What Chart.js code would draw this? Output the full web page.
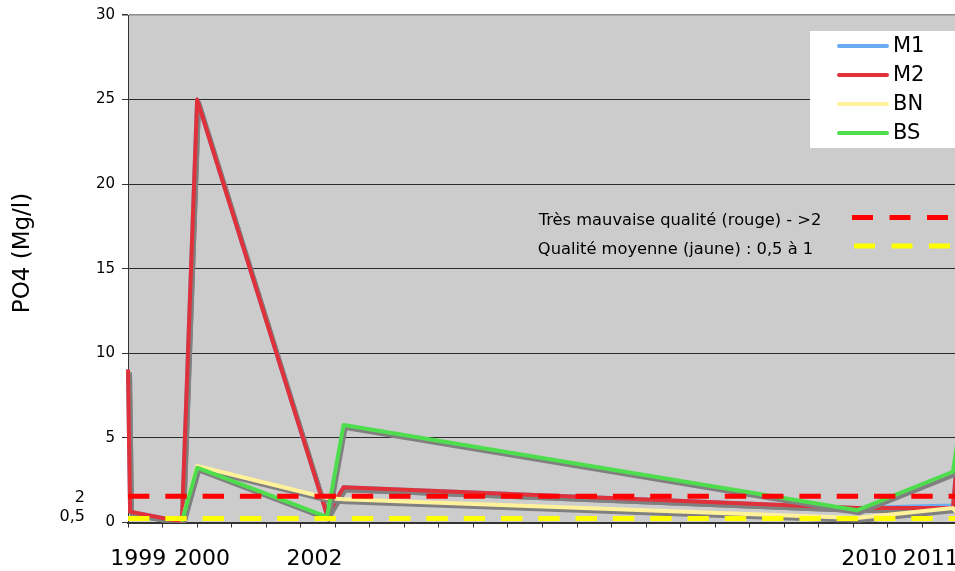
<!DOCTYPE html>
<html>
<head>
<meta charset="utf-8">
<script src="https://cdn.jsdelivr.net/npm/chart.js@4/dist/chart.umd.min.js"></script>
<style>
  html, body { margin: 0; padding: 0; background: #fff; overflow: hidden; }
  canvas { display: block; }
</style>
</head>
<body>
<canvas id="chart" width="955" height="571"></canvas>
<script>
// sampling dates as decimal years
const sampleYears = [1999.00, 1999.03, 1999.78, 2000.00, 2001.88, 2002.12, 2009.55, 2010.94, 2011.05];

const seriesNames = ["M1", "M2", "BN", "BS"];
const m1Values = [9.05, 0.64, 0.05, 25.0, 0.45, 2.08, 0.86, 1.0, 6.1];
const m2Values = [9.05, 0.64, 0.05, 25.0, 0.45, 2.08, 0.86, 0.85, 6.1];
const bnValues = [null, null, 0.05, 3.34, 1.45, 1.38, 0.27, 0.86, 0.3];
const bsValues = [null, null, 0.05, 3.24, 0.33, 5.76, 0.72, 3.0, 6.0];

// threshold lines
const refNames = ["Très mauvaise qualité (rouge) - >2", "Qualité moyenne (jaune) : 0,5 à 1"];
const refValues = [1.55, 0.24];
const refSpan = [1999.0, 2011.05];
const refTickLabels = ["2", "0,5"];
const refTickAt = [1.45, 0.34];

// year labels under the axis
const yearLabels = ["1999", "2000", "2002", "2010", "2011"];
const yearTickAt = [1999.15, 2000.07, 2001.70, 2009.73, 2010.62];

const X_MIN = 1999;
const X_MAX = 2010.97;

const SERIES_COLORS = ["#6aaaf0", "#e0303a", "#fff29a", "#4ddd4d"];
const REF_COLORS = ["#ff0000", "#ffff00"];

const toPoints = (vals) => sampleYears.map((x, i) => ({ x, y: vals[i] }));

Chart.defaults.font.family = '"DejaVu Sans", sans-serif';
Chart.defaults.color = "#000";

const plotBackground = {
  id: "plotBackground",
  beforeDraw(chart) {
    const { ctx, chartArea: a } = chart;
    ctx.save();
    ctx.fillStyle = "#cccccc";
    ctx.fillRect(a.left, a.top, a.right - a.left + 5, a.bottom - a.top);
    ctx.restore();
  },
};

// grey drop shadow under the data lines
const lineShadow = {
  id: "lineShadow",
  beforeDatasetDraw(chart, args) {
    if (!chart.data.datasets[args.index].shadow) return;
    const ctx = chart.ctx;
    ctx.save();
    ctx.shadowColor = "#808080";
    ctx.shadowOffsetX = 2;
    ctx.shadowOffsetY = 3;
    ctx.shadowBlur = 0;
  },
  afterDatasetDraw(chart, args) {
    if (chart.data.datasets[args.index].shadow) chart.ctx.restore();
  },
};

const sideTitle = {
  id: "sideTitle",
  afterDraw(chart) {
    const ctx = chart.ctx;
    ctx.save();
    ctx.translate(23, 253);
    ctx.rotate(-Math.PI / 2);
    ctx.font = '23px "DejaVu Sans"';
    ctx.fillStyle = "#000";
    ctx.textAlign = "center";
    ctx.textBaseline = "middle";
    ctx.fillText("PO4 (Mg/l)", 0, 0);
    ctx.restore();
  },
};

const boxLegends = {
  id: "boxLegends",
  afterDraw(chart) {
    const ctx = chart.ctx;
    const sets = chart.data.datasets;
    ctx.save();

    // series legend, white box top right
    ctx.fillStyle = "#ffffff";
    ctx.fillRect(810, 31, 150, 117);
    ctx.font = '21px "DejaVu Sans"';
    ctx.textBaseline = "middle";
    ctx.lineCap = "round";
    ctx.lineWidth = 4;
    sets.filter((d) => d.kind === "series").forEach((d, i) => {
      const y = 46 + i * 29;
      ctx.strokeStyle = d.borderColor;
      ctx.beginPath();
      ctx.moveTo(839, y);
      ctx.lineTo(887, y);
      ctx.stroke();
      ctx.fillStyle = "#000";
      ctx.fillText(d.label, 893, y + 1);
    });

    // threshold legend, no box
    ctx.font = '16.3px "DejaVu Sans"';
    ctx.textAlign = "center";
    ctx.lineCap = "butt";
    ctx.lineWidth = 5;
    const textX = [680, 675.5];
    const textY = [221, 250];
    const dashX = [852, 854];
    const dashY = [217.5, 246];
    sets.filter((d) => d.kind === "ref").forEach((d, i) => {
      ctx.fillStyle = "#000";
      ctx.fillText(d.label, textX[i], textY[i]);
      ctx.strokeStyle = d.borderColor;
      ctx.setLineDash([21, 16.5]);
      ctx.beginPath();
      ctx.moveTo(dashX[i], dashY[i]);
      ctx.lineTo(960, dashY[i]);
      ctx.stroke();
    });
    ctx.restore();
  },
};

const seriesValues = [m1Values, m2Values, bnValues, bsValues];
const seriesOrder = [4, 3, 2, 1];

const datasets = seriesNames.map((name, i) => ({
  kind: "series",
  shadow: true,
  label: name,
  data: toPoints(seriesValues[i]),
  borderColor: SERIES_COLORS[i],
  borderWidth: 4,
  borderJoinStyle: "round",
  pointRadius: 0,
  tension: 0,
  clip: { left: 5, top: 5, right: 5, bottom: 0 },
  order: seriesOrder[i],
  xAxisID: "x",
  yAxisID: "y",
}));

refNames.forEach((name, i) => {
  datasets.push({
    kind: "ref",
    label: name,
    data: refSpan.map((x) => ({ x, y: refValues[i] })),
    borderColor: REF_COLORS[i],
    borderWidth: 5,
    borderDash: [21.4, 15.9],
    borderCapStyle: "butt",
    pointRadius: 0,
    order: 0,
    xAxisID: "x",
    yAxisID: "y",
  });
});

function noPad(scale) {
  scale.paddingLeft = 0;
  scale.paddingRight = 0;
  scale.paddingTop = 0;
  scale.paddingBottom = 0;
}

new Chart(document.getElementById("chart"), {
  type: "line",
  data: { datasets },
  options: {
    responsive: false,
    animation: false,
    devicePixelRatio: 1,
    layout: { padding: { top: 15, left: 0, right: 0, bottom: 0 } },
    plugins: {
      legend: { display: false },
      tooltip: { enabled: false },
    },
    scales: {
      x: {
        type: "linear",
        position: "bottom",
        min: X_MIN,
        max: X_MAX,
        weight: 0,
        ticks: { display: false, stepSize: 0.5, includeBounds: false },
        grid: {
          drawOnChartArea: false,
          drawTicks: true,
          tickLength: 5,
          tickColor: "#333",
          tickWidth: 1,
        },
        border: { display: true, color: "#333", width: 2 },
        afterFit: (s) => {
          s.height = 5;
          noPad(s);
        },
      },
      xYears: {
        type: "linear",
        position: "bottom",
        min: X_MIN,
        max: X_MAX,
        weight: 1,
        grid: { display: false, drawTicks: false },
        border: { display: false },
        afterBuildTicks: (s) => {
          s.ticks = yearTickAt.map((v) => ({ value: v }));
        },
        ticks: {
          autoSkip: false,
          maxRotation: 0,
          padding: 19,
          font: { size: 22 },
          color: "#000",
          callback: (v, i) => yearLabels[i],
        },
        afterFit: (s) => {
          s.height = 43.5;
          noPad(s);
        },
      },
      y: {
        type: "linear",
        position: "left",
        min: 0,
        max: 30,
        weight: 0,
        ticks: { stepSize: 5, padding: 7, font: { size: 15 }, color: "#000" },
        grid: {
          color: (c) => (c.tick && c.tick.value === 30 ? "#8c8c8c" : "#2b2b2b"),
          lineWidth: (c) => (c.tick && c.tick.value === 30 ? 1.5 : 1),
          tickColor: "#333",
          tickLength: 6,
        },
        border: { display: true, color: "#333", width: 1 },
        afterFit: (s) => {
          s.width = 38;
          noPad(s);
        },
      },
      yRef: {
        type: "linear",
        position: "left",
        min: 0,
        max: 30,
        weight: 1,
        grid: { display: false, drawTicks: false },
        border: { display: false },
        afterBuildTicks: (s) => {
          s.ticks = refTickAt.map((v) => ({ value: v }));
        },
        ticks: {
          autoSkip: false,
          padding: 5,
          font: { size: 16 },
          color: "#000",
          callback: (v, i) => refTickLabels[i],
        },
        afterFit: (s) => {
          s.width = 90;
          noPad(s);
        },
      },
    },
  },
  plugins: [plotBackground, lineShadow, sideTitle, boxLegends],
});
</script>
</body>
</html>
